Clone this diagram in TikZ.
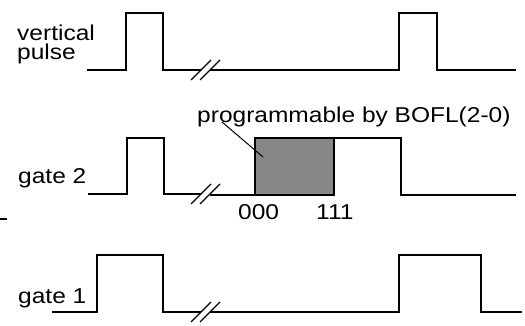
\documentclass[tikz,border=0pt]{standalone}
\usepackage{fontspec}
\setmainfont{Liberation Sans}
\begin{document}
\begin{tikzpicture}[x=1pt,y=-1pt,
  wave/.style={line width=1.2pt, line join=miter},
  brk/.style={line width=1.1pt},
  lbl/.style={inner sep=0pt, anchor=base west, transform shape, xscale=1.14, font=\fontsize{21.5}{21.5}\selectfont},
  boxfill/.style={fill=black!47, draw=black, line width=1.3pt}]
\useasboundingbox (0,0) rectangle (525,326);
% labels
\node[lbl] (vert) at (17,41) {vertical};
\node[lbl] (puls) at (17,60) {pulse};
\node[lbl] (g2) at (18,183) {gate 2};
\node[lbl] (g1) at (18,303) {gate 1};
\node[lbl] (prog) at (197,123) {programmable by BOFL(2-0)};
\node[lbl] (z0) at (238,219) {000};
\node[lbl] (z1) at (316,219) {111};
% vertical pulse
\draw[wave] (87,70) -- (126,70) -- (126,13) -- (163,13) -- (163,70) -- (201,70);
\draw[wave] (210,70) -- (399,70) -- (399,13) -- (437,13) -- (437,70) -- (516,70);
\draw[brk] (191,80) -- (211,60) (200,80) -- (220,60);
% gate 2
\filldraw[boxfill] (255,138) rectangle (334,195);
\draw[wave] (88,194) -- (127,194) -- (127,138) -- (164,138) -- (164,194) -- (201,194);
\draw[wave] (210,195) -- (255,195);
\draw[wave] (334,138) -- (401,138) -- (401,195) -- (516,195);
\draw[brk] (191,204) -- (211,184) (200,204) -- (220,184);
% leader
\coordinate (ldA) at (222,122);
\coordinate (ldB) at (263,157);
\draw[line width=1pt] (ldA) -- (ldB);
% small mark at left
\draw[wave] (0,219) -- (7,219);
% gate 1
\draw[wave] (52,312) -- (97,312) -- (97,255) -- (163,255) -- (163,312) -- (201,312);
\draw[wave] (210,312) -- (399,312) -- (399,255) -- (481,255) -- (481,312) -- (522,312);
\draw[brk] (191,322) -- (211,302) (200,322) -- (220,302);
\end{tikzpicture}
\end{document}
